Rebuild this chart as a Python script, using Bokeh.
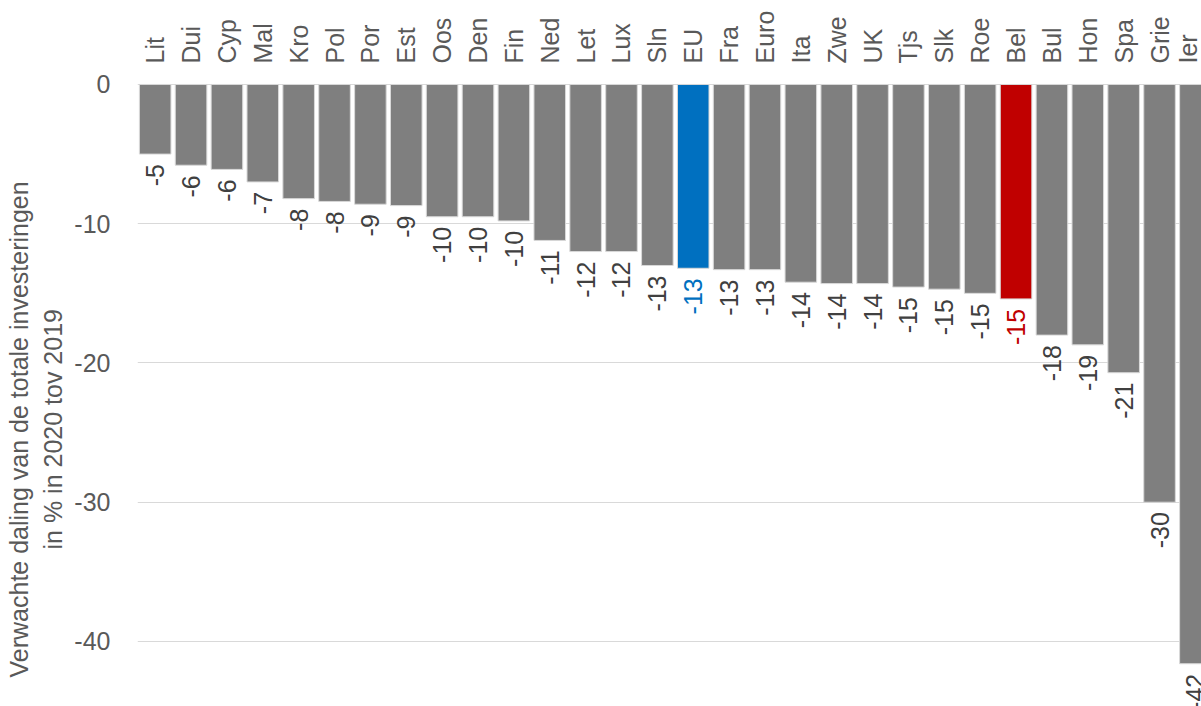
import math
from bokeh.plotting import figure
from bokeh.models import Range1d, LinearAxis, FixedTicker, Title, ColumnDataSource
from bokeh.embed import file_html
from bokeh.resources import INLINE
from bokeh.core.properties import value

categories = ["Lit", "Dui", "Cyp", "Mal", "Kro", "Pol", "Por", "Est", "Oos", "Den",
              "Fin", "Ned", "Let", "Lux", "Sln", "EU", "Fra", "Euro", "Ita", "Zwe",
              "UK", "Tjs", "Slk", "Roe", "Bel", "Bul", "Hon", "Spa", "Grie", "Ier"]
values = [-5.0, -5.8, -6.1, -7.0, -8.2, -8.4, -8.6, -8.7, -9.5, -9.5,
          -9.8, -11.2, -12.0, -12.0, -13.0, -13.2, -13.3, -13.3, -14.2, -14.3,
          -14.3, -14.55, -14.7, -15.0, -15.4, -18.0, -18.7, -20.7, -30.0, -41.6]
y_ticks = [0, -10, -20, -30, -40]
y_tick_labels = ["0", "-10", "-20", "-30", "-40"]
axis_title = ["Verwachte daling van de totale investeringen", "in % in 2020 tov 2019"]

FONT = "Liberation Sans"
FS = "25px"
GRAY_TXT = "#595959"
highlight_bar = {"EU": "#0070C0", "Bel": "#C00000"}
bar_colors = [highlight_bar.get(c, "#7F7F7F") for c in categories]
label_colors = [highlight_bar.get(c, "#404040") for c in categories]

idx = list(range(len(categories)))
src = ColumnDataSource(dict(
    x=idx, y=values, color=bar_colors, lcolor=label_colors,
    label=[str(round(v)) for v in values],
))

p = figure(width=1201, height=706,
           x_range=Range1d(-0.493, 29.17), y_range=Range1d(-44.67, 0.5),
           output_backend="svg", toolbar_location=None, x_axis_location=None,
           min_border_left=137, min_border_right=0, min_border_top=77, min_border_bottom=0,
           outline_line_color=None, background_fill_color="white")

p.vbar(x="x", top=0, bottom="y", width=0.88, source=src,
       fill_color="color", line_color="#D9D9D9", line_width=1)

p.text(x="x", y="y", text="label", source=src, angle=math.pi / 2,
       text_align="right", text_baseline="middle", y_offset=10,
       text_color="lcolor", text_font=value(FONT), text_font_size=FS)

# y axis
yax = p.yaxis[0]
yax.ticker = FixedTicker(ticks=y_ticks)
yax.major_label_overrides = dict(zip(y_ticks, y_tick_labels))
yax.axis_line_color = None
yax.major_tick_line_color = None
yax.minor_tick_line_color = None
yax.major_tick_out = 0
yax.major_label_standoff = 27
yax.major_label_text_font = FONT
yax.major_label_text_font_size = FS
yax.major_label_text_color = GRAY_TXT

p.ygrid.ticker = FixedTicker(ticks=y_ticks)
p.ygrid.grid_line_color = "#D9D9D9"
p.ygrid.grid_line_width = 1
p.xgrid.grid_line_color = None

# category axis on top
top = LinearAxis(ticker=FixedTicker(ticks=idx),
                 major_label_overrides={i: c for i, c in enumerate(categories)},
                 major_label_orientation="vertical")
top.axis_line_color = None
top.major_tick_line_color = None
top.minor_tick_line_color = None
top.major_tick_out = 0
top.major_label_standoff = 14
top.major_label_text_font = FONT
top.major_label_text_font_size = FS
top.major_label_text_color = GRAY_TXT
p.add_layout(top, "above")

# y axis title (two lines, centred on each other), inner line first
for txt, so, off in zip(reversed(axis_title), [9, 0], [157, 29]):
    p.add_layout(Title(text=txt, align="left", offset=off, standoff=so,
                       text_font=FONT, text_font_size=FS, text_font_style="normal",
                       text_color=GRAY_TXT), "left")

open("out.html", "w").write(file_html(p, INLINE))
